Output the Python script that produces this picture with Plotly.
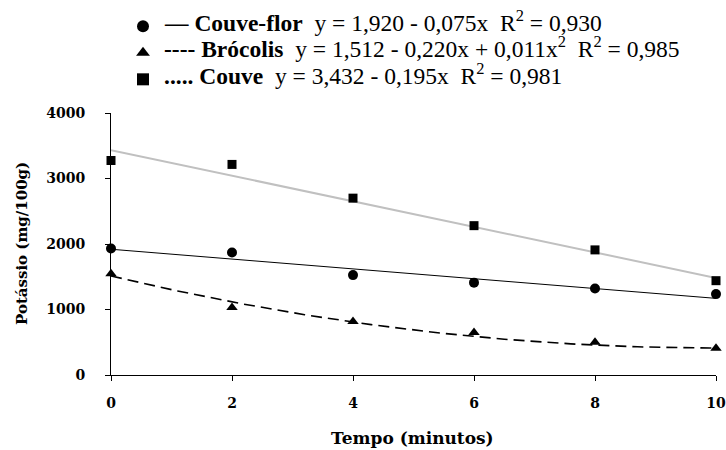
import numpy as np
import plotly.graph_objects as go

# Data (mg/100g)
tempo = [0, 2, 4, 6, 8, 10]
couve_flor = [1930, 1870, 1525, 1410, 1320, 1235]
brocolis = [1545, 1030, 815, 648, 500, 410]
couve = [3275, 3215, 2700, 2280, 1910, 1440]

# Trendline coefficients from the legend equations (g/100g -> mg/100g x1000)
coef_couve_flor = [1.920, -0.075]
coef_brocolis = [1.512, -0.220, 0.011]
coef_couve = [3.432, -0.195]

x_tick_vals = [0, 2, 4, 6, 8, 10]
y_tick_vals = [0, 1000, 2000, 3000, 4000]

legend_texts = [
    "<b>\u2014 Couve-flor</b>\u00a0\u00a0y = 1,920 - 0,075x\u00a0\u00a0R<sup>2</sup> = 0,930",
    "<b>---- Brócolis</b>\u00a0\u00a0y = 1,512 - 0,220x + 0,011x<sup>2</sup>\u00a0\u00a0R<sup>2</sup> = 0,985",
    "<b>..... Couve</b>\u00a0\u00a0y = 3,432 - 0,195x\u00a0\u00a0R<sup>2</sup> = 0,981",
]


def poly(coefs, x):
    x = np.asarray(x, dtype=float)
    return 1000 * sum(c * x ** i for i, c in enumerate(coefs))


xs = np.linspace(0, 10, 101)

fig = go.Figure()

# Trendlines
fig.add_trace(go.Scatter(x=xs, y=poly(coef_couve, xs), mode="lines",
                         line=dict(color="#c0c0c0", width=2), showlegend=False,
                         hoverinfo="skip"))
fig.add_trace(go.Scatter(x=xs, y=poly(coef_couve_flor, xs), mode="lines",
                         line=dict(color="black", width=1), showlegend=False,
                         hoverinfo="skip"))
fig.add_trace(go.Scatter(x=xs, y=poly(coef_brocolis, xs), mode="lines",
                         line=dict(color="black", width=1.6, dash="11px,6px"),
                         showlegend=False, hoverinfo="skip"))

# Data points (legend shows only the marker symbols; text is in annotations)
fig.add_trace(go.Scatter(x=tempo, y=couve_flor, mode="markers", name="\u00a0",
                         marker=dict(symbol="circle", size=10, color="black"),
                         cliponaxis=False))
fig.add_trace(go.Scatter(x=tempo, y=brocolis, mode="markers", name="\u00a0",
                         marker=dict(symbol="triangle-up", size=10, color="black"),
                         cliponaxis=False))
fig.add_trace(go.Scatter(x=tempo, y=couve, mode="markers", name="\u00a0",
                         marker=dict(symbol="square", size=9, color="black"),
                         cliponaxis=False))

axis_font = dict(family="DejaVu Serif", size=14, color="black", weight="bold")
title_font = dict(family="DejaVu Serif", size=15, color="black", weight="bold")

plot_w = 726 - 111 - 10
plot_h = 450 - 113 - 75

annotations = []
for i, t in enumerate(legend_texts):
    annotations.append(dict(
        xref="paper", yref="paper",
        x=(162 - 111) / plot_w, y=1 + (113 - (20.5 + 26.7 * i)) / plot_h,
        xanchor="left", yanchor="middle", showarrow=False, text=t,
        font=dict(family="Liberation Serif", size=23.5, color="black"),
    ))
# axis titles
annotations.append(dict(
    xref="paper", yref="paper", x=(22 - 111) / plot_w, y=0.5,
    xanchor="center", yanchor="middle", textangle=-90, showarrow=False,
    text="Potássio (mg/100g)", font=title_font,
))
annotations.append(dict(
    xref="paper", yref="paper", x=(412 - 111) / plot_w, y=-(438 - 375) / plot_h,
    xanchor="center", yanchor="middle", showarrow=False,
    text="Tempo (minutos)",
    font=dict(family="DejaVu Serif", size=17, color="black", weight="bold"),
))

fig.update_layout(
    width=726, height=450,
    margin=dict(l=111, r=10, t=113, b=75, autoexpand=False),
    paper_bgcolor="white", plot_bgcolor="white",
    showlegend=True,
    annotations=annotations,
    legend=dict(
        xref="container", yref="container",
        x=123 / 726, y=1 - 8 / 450, xanchor="left", yanchor="top",
        font=dict(family="Liberation Serif", size=18.1, color="black"),
        bgcolor="rgba(0,0,0,0)", borderwidth=0, tracegroupgap=0,
        itemsizing="constant",
    ),
    xaxis=dict(
        range=[0, 10], tickvals=x_tick_vals, ticks="outside", ticklen=5,
        tickcolor="black", showline=True, linecolor="black", linewidth=1,
        showgrid=False, zeroline=False, tickfont=axis_font,
        ticklabelstandoff=10, automargin=False,
    ),
    yaxis=dict(
        range=[0, 4000], tickvals=y_tick_vals, ticks="outside", ticklen=5,
        tickcolor="black", showline=True, linecolor="black", linewidth=1,
        showgrid=False, zeroline=False, tickfont=axis_font,
        ticklabelstandoff=17, automargin=False,
    ),
)

fig.write_html("out.html", config={"displayModeBar": False},
               post_script="document.body.style.margin='0';")
